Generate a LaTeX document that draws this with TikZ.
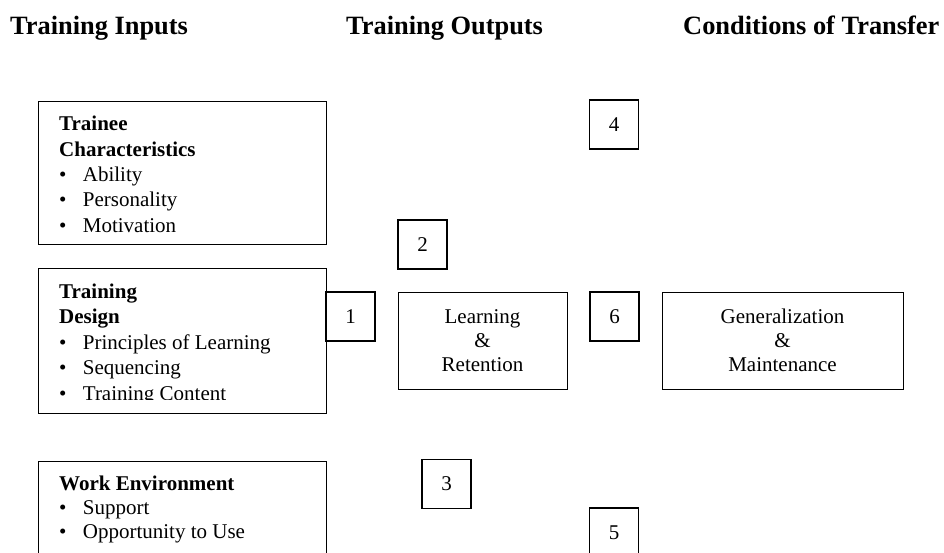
\documentclass[tikz,border=0pt]{standalone}
\usepackage{fontspec}
\setmainfont{Liberation Serif}
% bulleted line: bullet, then the item text at a fixed indent
\newcommand\itm[1]{\makebox[23.7pt][l]{\textbullet}#1}
\begin{document}
\begin{tikzpicture}[x=1pt,y=-1pt,
  frame/.style={draw, line width=1.2pt, inner sep=0pt, anchor=north west},
  numbox/.style={draw, line width=1.2pt, inner sep=0pt, minimum width=49pt,
    minimum height=49pt, font=\fontsize{21}{24}\selectfont},
  head/.style={anchor=base west, inner sep=0pt, font=\fontsize{26.4}{30}\selectfont\bfseries},
  list/.style={anchor=base west, inner sep=0pt, font=\fontsize{21}{25.3}\selectfont},
  mid/.style={anchor=base, inner sep=0pt, font=\fontsize{21}{24}\selectfont}]
\useasboundingbox (0,0) rectangle (944,553);
\clip (0,0) rectangle (944,553);

% column headings
\node[head] (hin)  at (10,35)  {Training Inputs};
\node[head] (hout) at (346,35) {Training Outputs};
\node[head] (hcon) at (683,35) {Conditions of Transfer};

% training inputs
\node[frame, minimum width=288pt, minimum height=143pt] (trainee) at (38,101) {};
\node[list] (traineetxt) at (59,131) {\parbox[t]{260pt}{\textbf{Trainee}\\
  \textbf{Characteristics}\\ \itm{Ability}\\ \itm{Personality}\\ \itm{Motivation}}};

\node[frame, minimum width=288pt, minimum height=145pt] (design) at (38,268) {};
\begin{scope}
  % the last item runs past the text area and is cut off at its foot
  \clip (38,268) rectangle (326,399);
  \node[list] (designtxt) at (59,298) {\parbox[t]{260pt}{\baselineskip=25.6pt
    \textbf{Training}\\ \textbf{Design}\\ \itm{Principles of Learning}\\
    \itm{Sequencing}\\ \itm{Training Content}}};
\end{scope}

\node[frame, minimum width=288pt, minimum height=120pt] (work) at (38,461) {};
\node[list] (worktxt) at (59,490.5) {\parbox[t]{260pt}{\baselineskip=24pt
  \textbf{Work Environment}\\ \itm{Support}\\ \itm{Opportunity to Use}}};

% numbered boxes
\node[numbox] (n1) at (350.5,316.5) {1};
\node[numbox] (n2) at (422.5,244.5) {2};
\node[numbox] (n3) at (446.5,484)   {3};
\node[numbox] (n4) at (614,124.5)   {4};
\node[numbox] (n5) at (614,532.5)   {5};
\node[numbox] (n6) at (614.5,316.5) {6};

% outputs and transfer
\node[frame, minimum width=169pt, minimum height=97pt] (learn) at (398,292) {};
\node[mid] (learntxt) at (482.5,323) {\parbox[t]{160pt}{\centering Learning\\ \&\\ Retention}};

\node[frame, minimum width=241pt, minimum height=97pt] (gen) at (662,292) {};
\node[mid] (gentxt) at (782.5,323) {\parbox[t]{230pt}{\centering Generalization\\ \&\\ Maintenance}};
\end{tikzpicture}
\end{document}
